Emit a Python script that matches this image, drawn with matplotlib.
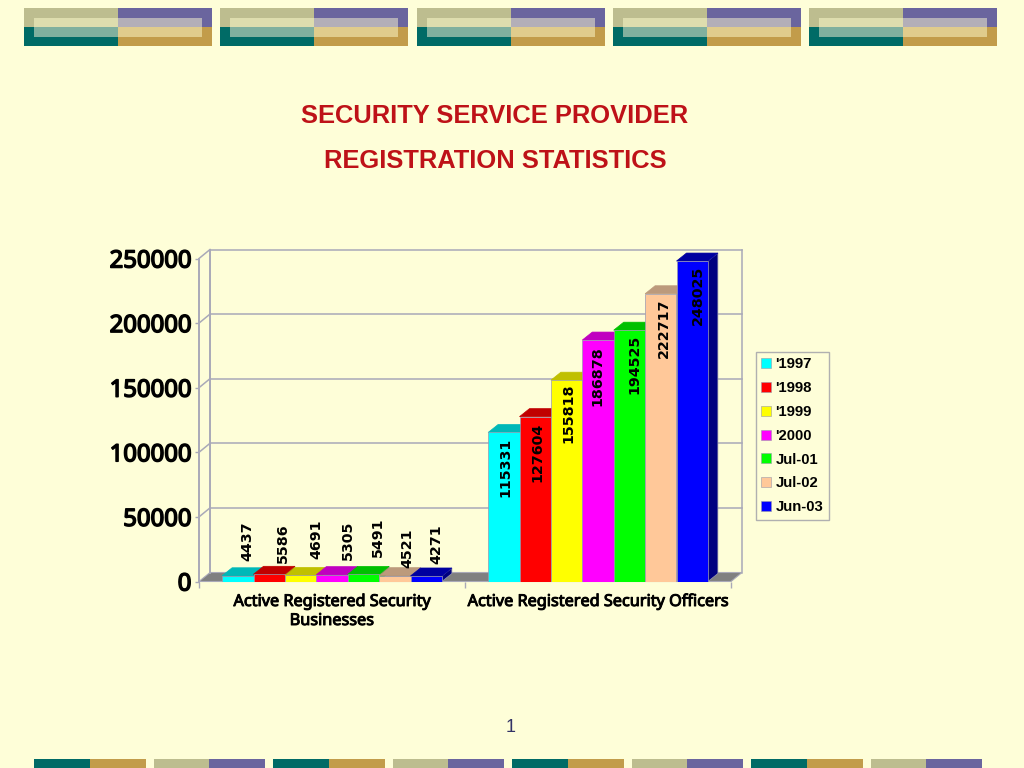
import matplotlib
matplotlib.use("Agg")
import matplotlib.pyplot as plt
import matplotlib.patheffects as pe
from matplotlib.patches import Patch, Polygon, Rectangle

groups = ["Active Registered Security\nBusinesses", "Active Registered Security Officers"]
periods = ["'1997", "'1998", "'1999", "'2000", "Jul-01", "Jul-02", "Jun-03"]
businesses = [4437, 5586, 4691, 5305, 5491, 4521, 4271]
officers = [115331, 127604, 155818, 186878, 194525, 222717, 248025]
y_ticks = [0, 50000, 100000, 150000, 200000, 250000]

front_colors = ["#00FFFF", "#FF0000", "#FFFF00", "#FF00FF", "#00FF00", "#FFC899", "#0000FF"]
top_colors = ["#00B8B8", "#C00000", "#C0C000", "#C000C0", "#00C000", "#BC9A7C", "#0000A0"]
side_colors = ["#009090", "#900000", "#909000", "#900090", "#009000", "#A08060", "#000080"]

# hand placed label nudges in pixels, the original chart has them all over
biz_nudge = [(10, 15), (14, 11), (16, 16), (16, 15), (15, 17), (13, 8), (10, 12)]
off_nudge = [(2, -5), (2, -6), (2, -3), (-1, -6), (5, -5), (3, -5), (6, -5)]

BG = "#FEFED8"
WALL = "#A9A9B8"
RED = "#BE1218"
OLIVE, PURPLE, TEAL, GOLD = "#BDBD8F", "#6A659E", "#006B66", "#C29C4A"
PX_W, PX_H = 1024, 768


def px_rect(fig, x0, y0, x1, y1, color):
    fig.add_artist(Rectangle((x0 / PX_W, 1 - y1 / PX_H), (x1 - x0) / PX_W, (y1 - y0) / PX_H,
                             transform=fig.transFigure, facecolor=color, edgecolor="none"))


fig = plt.figure(figsize=(10.24, 7.68), dpi=100, facecolor=BG)

# top and bottom banner blocks
for x in [24, 220, 417, 613, 809]:
    px_rect(fig, x, 8, x + 94, 27, OLIVE)
    px_rect(fig, x + 94, 8, x + 188, 27, PURPLE)
    px_rect(fig, x, 27, x + 94, 46, TEAL)
    px_rect(fig, x + 94, 27, x + 188, 46, GOLD)
    px_rect(fig, x + 10, 18, x + 94, 27, "#DEDDAE")
    px_rect(fig, x + 94, 18, x + 178, 27, "#B3AFB8")
    px_rect(fig, x + 10, 27, x + 94, 37, "#80B09E")
    px_rect(fig, x + 94, 27, x + 178, 37, "#E0CC8C")
for i in range(8):
    x = 34 + 119.5 * i
    left, right = (TEAL, GOLD) if i % 2 == 0 else (OLIVE, PURPLE)
    px_rect(fig, x, 759, x + 55.5, 768, left)
    px_rect(fig, x + 55.5, 759, x + 111.5, 768, right)

fig.text(495 / PX_W, 1 - 116 / PX_H, "SECURITY SERVICE PROVIDER", color=RED, fontsize=18.4,
         fontweight="bold", family="Liberation Sans", ha="center", va="center")
fig.text(495 / PX_W, 1 - 161 / PX_H, "REGISTRATION STATISTICS", color=RED, fontsize=18.4,
         fontweight="bold", family="Liberation Sans", ha="center", va="center")
fig.text(511 / PX_W, 1 - 727 / PX_H, "1", color="#333366", fontsize=13,
         family="Liberation Sans", ha="center", va="center")

ax = fig.add_axes([199 / PX_W, 1 - 581.5 / PX_H, 532 / PX_W, 323 / PX_H])
ax.patch.set_visible(False)
ax.set_xlim(0, 2)
ax.set_ylim(0, 250000)
for spine in ax.spines.values():
    spine.set_visible(False)

# depth of the fake 3d box, in data units
wall_dx = 11 / 266
wall_dy = 9 * 250000 / 323
bar_dx = 10 / 266
bar_dy = 8 * 250000 / 323
bar_w = 31.4 / 266

ax.add_patch(Polygon([(0, 0), (2, 0), (2 + wall_dx, wall_dy), (wall_dx, wall_dy)],
                     closed=True, facecolor="#808080", edgecolor=WALL, lw=0.8, clip_on=False, zorder=1))
for v in y_ticks[1:]:
    ax.plot([wall_dx, 2 + wall_dx], [v + wall_dy, v + wall_dy], color=WALL, lw=1.1, clip_on=False, zorder=1)
    ax.plot([0, wall_dx], [v, v + wall_dy], color=WALL, lw=1.1, clip_on=False, zorder=1)
ax.plot([wall_dx, wall_dx], [wall_dy, 250000 + wall_dy], color=WALL, lw=1.4, clip_on=False, zorder=1)
ax.plot([2 + wall_dx, 2 + wall_dx], [wall_dy, 250000 + wall_dy], color=WALL, lw=1.1, clip_on=False, zorder=1)
ax.plot([0, 0], [0, 250000], color=WALL, lw=1.4, clip_on=False, zorder=1)

z = 3
for center, values in [(0.5, businesses), (1.5, officers)]:
    start = center - 3.5 * bar_w
    for i, val in enumerate(values):
        x0 = start + i * bar_w
        x1 = x0 + bar_w
        edge = "#9A9AB0"
        ax.add_patch(Polygon([(x1, 0), (x1 + bar_dx, bar_dy), (x1 + bar_dx, val + bar_dy), (x1, val)],
                             closed=True, facecolor=side_colors[i], edgecolor=edge, lw=0.5, clip_on=False, zorder=z))
        ax.add_patch(Polygon([(x0, val), (x1, val), (x1 + bar_dx, val + bar_dy), (x0 + bar_dx, val + bar_dy)],
                             closed=True, facecolor=top_colors[i], edgecolor=top_colors[i], lw=0.5, clip_on=False, zorder=z))
        ax.bar(x0, val, width=bar_w, align="edge", color=front_colors[i], edgecolor=edge, lw=0.5, zorder=z + 0.5)
        z += 1
for center, values, nudges, va in [(0.5, businesses, biz_nudge, "bottom"), (1.5, officers, off_nudge, "top")]:
    start = center - 3.5 * bar_w
    for i, val in enumerate(values):
        ax.annotate(str(val), (start + (i + 0.5) * bar_w, val), xytext=nudges[i], textcoords="offset pixels",
                    rotation=90, ha="center", va=va, fontsize=10.3, fontweight="bold", color="black",
                    zorder=100, annotation_clip=False)

ax.set_yticks(y_ticks)
ax.set_yticklabels([str(v) for v in y_ticks], fontsize=17.2, family="Noto Sans")
ax.tick_params(axis="y", length=3, width=1, color=WALL, pad=2.5)
ax.set_xticks([0, 1, 2])
ax.set_xticklabels([])
ax.tick_params(axis="x", which="major", length=4.5, width=1, color=WALL)
ax.set_xticks([0.5, 1.5], minor=True)
ax.set_xticklabels(groups, minor=True, fontsize=11.7, family="Noto Sans", linespacing=1.25)
ax.tick_params(axis="x", which="minor", length=0, pad=9)

# Noto Sans comes out regular here, so thicken the strokes to get the bold look
for lab in ax.get_yticklabels():
    lab.set_path_effects([pe.withStroke(linewidth=1.1, foreground="black")])
for lab in ax.get_xticklabels(minor=True):
    lab.set_path_effects([pe.withStroke(linewidth=0.7, foreground="black")])

handles = [Patch(facecolor=c, edgecolor="#9A9AA8", lw=0.4, label=p) for c, p in zip(front_colors, periods)]
leg = ax.legend(handles=handles, loc="upper left", bbox_to_anchor=(756 / PX_W, 1 - 352 / PX_H),
                bbox_transform=fig.transFigure, fancybox=False, edgecolor="#B0B0B0", facecolor=BG,
                framealpha=1, borderaxespad=0, borderpad=0.36, labelspacing=0.66, handlelength=0.65,
                handleheight=0.65, handletextpad=0.3,
                prop={"family": "Liberation Sans", "weight": "bold", "size": 10.7})
leg.get_frame().set_linewidth(1)
leg.set_zorder(200)

fig.savefig("out.png", dpi=100, facecolor=BG)
